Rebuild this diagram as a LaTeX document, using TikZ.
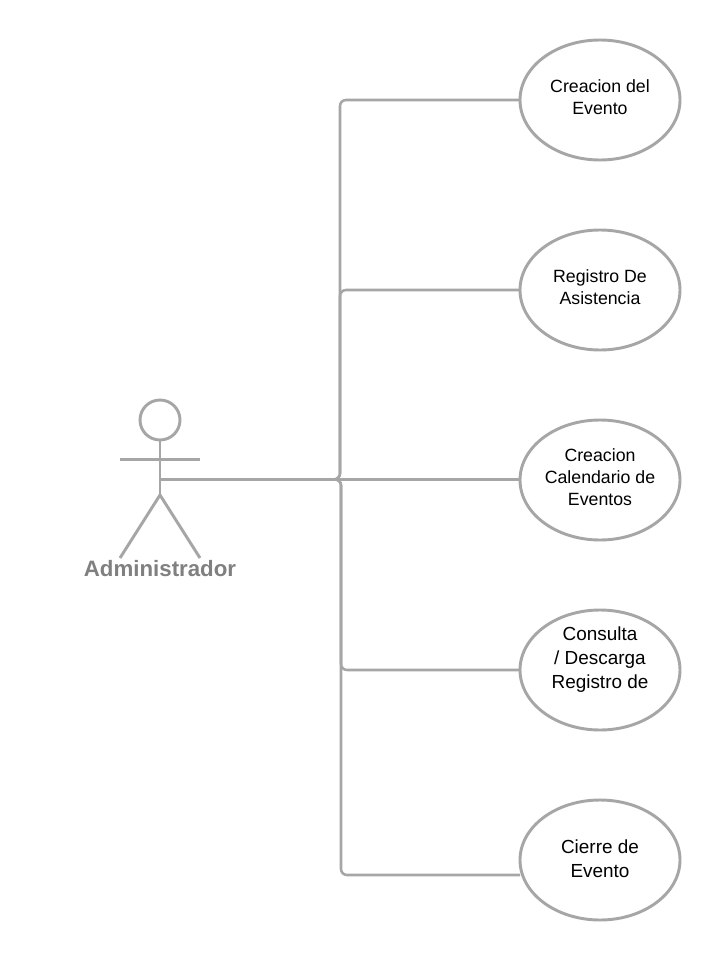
\documentclass[tikz,border=0pt]{standalone}
\usepackage{fontspec}
\setmainfont{Liberation Sans}
\usetikzlibrary{shapes.geometric}
\definecolor{linegray}{HTML}{A6A6A6}
\definecolor{labelgray}{HTML}{808080}
\tikzset{
  usecase/.style={draw=linegray,line width=2.2pt,ellipse,minimum width=120pt,minimum height=90pt,inner sep=0pt,outer sep=0pt,fill=white},
  linkline/.style={draw=linegray,line width=1.9pt,rounded corners=4.5pt},
  limb/.style={draw=linegray,line width=2.2pt},
  smalltxt/.style={align=center,font=\fontsize{13.3pt}{16.5pt}\selectfont,text=black,inner sep=0pt},
  bigtxt/.style={align=center,font=\fontsize{14.2pt}{18pt}\selectfont,text=black,inner sep=0pt}
}
\begin{document}
\begin{tikzpicture}[x=0.75pt,y=-0.75pt]
\useasboundingbox (0,0) rectangle (720,960);
\fill[white] (0,0) rectangle (720,960);
% actor
\node[circle,draw=linegray,line width=2.2pt,minimum size=30pt,inner sep=0pt,outer sep=0pt] (head) at (160,420) {};
\coordinate (hip) at (160,495);
\coordinate (armL) at (120,459.4);
\coordinate (armR) at (200,459.4);
\coordinate (footL) at (120,558);
\coordinate (footR) at (200,558);
\coordinate (actor) at (160,479.4);
\draw[limb] (head.south) -- (hip);
\draw[limb] (armL) -- (armR);
\draw[limb] (footL) -- (hip) -- (footR);
\node[font=\fontsize{16.7pt}{18pt}\selectfont\bfseries,text=labelgray,inner sep=0pt] (actorlabel) at (160,568.5) {Administrador};
% use cases
\node[usecase] (uc1) at (600,100) {};
\node[usecase] (uc2) at (600,290) {};
\node[usecase] (uc3) at (600,480) {};
\node[usecase] (uc4) at (600,670) {};
\node[usecase] (uc5) at (600,860) {};
\node[smalltxt] (t1) at (600,97) {Creacion del\\Evento};
\node[smalltxt] (t2) at (600,287) {Registro De\\Asistencia};
\node[smalltxt] (t3) at (600,477) {Creacion\\Calendario de\\Eventos};
\node[bigtxt] (t4) at (600,660) {Consulta\\/ Descarga\\Registro de};
\node[bigtxt] (t5) at (600,859) {Cierre de\\Evento};
% connectors
\draw[linkline] (actor) -- (340,479.4) -- (340,100) -- (uc1.west);
\draw[linkline] (actor) -- (340,479.4) -- (340,290) -- (uc2.west);
\draw[linkline] (actor) -- (uc3.west |- actor);
\draw[linkline] (actor) -- (341,479.4) -- (341,670) -- (uc4.west);
\draw[linkline] (actor) -- (341,479.4) -- (341,875) -- (uc5.west |- 0,875);
\end{tikzpicture}
\end{document}
